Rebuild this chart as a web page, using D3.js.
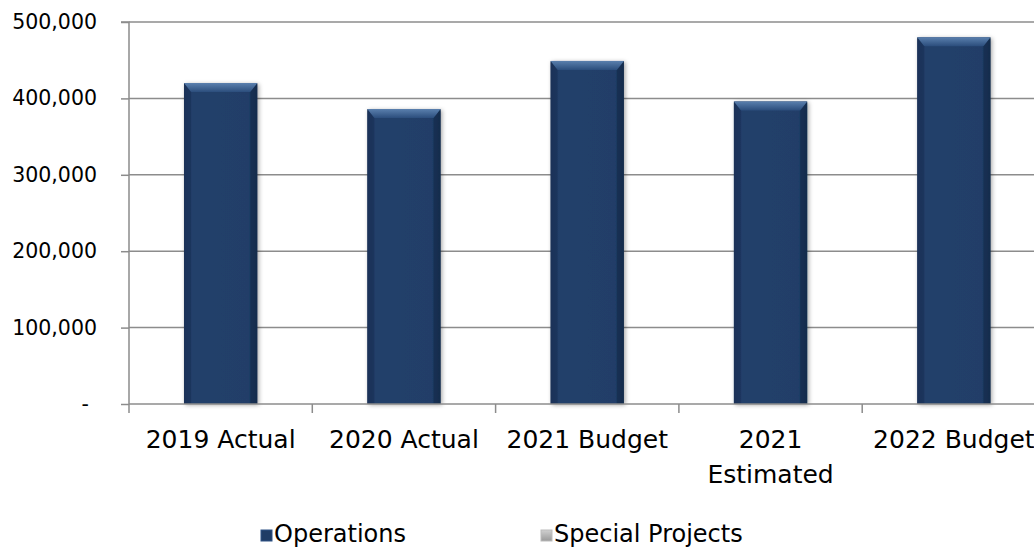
<!DOCTYPE html>
<html><head><meta charset="utf-8">
<script src="https://cdn.jsdelivr.net/npm/d3@7"></script>
<style>body{margin:0;background:#fff;} svg{display:block;}</style>
</head><body>
<svg id="chart" width="1034" height="548"></svg>
<script>
const categories = [["2019 Actual"],["2020 Actual"],["2021 Budget"],["2021","Estimated"],["2022 Budget"]];
const operations = [420000, 386000, 449000, 396000, 480000];
const specialProjects = [0, 0, 0, 0, 0];
const yTicks = [0, 100000, 200000, 300000, 400000, 500000];
const seriesNames = ["Operations", "Special Projects"];

(function(){
const svg = d3.select("#chart");
const mLeft = 129, mTop = 22, mBottom = 404, bandW = 183.3;
const mRight = mLeft + bandW * categories.length;
const x = d3.scaleBand().domain(d3.range(categories.length)).range([mLeft, mRight]).paddingInner(0.6).paddingOuter(0.3);
const xo = d3.scaleBand().domain(d3.range(categories.length)).range([mLeft, mRight]);
const y = d3.scaleLinear().domain([0, 500000]).range([mBottom, mTop]);

const defs = svg.append("defs");
const g = defs.append("linearGradient").attr("id","barg").attr("x1",0).attr("x2",1).attr("y1",0).attr("y2",0);
g.append("stop").attr("offset","0").attr("stop-color","#1a3358");
g.append("stop").attr("offset","0.12").attr("stop-color","#21406b");
g.append("stop").attr("offset","0.88").attr("stop-color","#203e68");
g.append("stop").attr("offset","1").attr("stop-color","#172e50");
const tg = defs.append("linearGradient").attr("id","topg").attr("x1",0).attr("x2",0).attr("y1",0).attr("y2",1);
tg.append("stop").attr("offset","0").attr("stop-color","#5a7fad");
tg.append("stop").attr("offset","1").attr("stop-color","#2b4d7c");
const f = defs.append("filter").attr("id","sh").attr("x","-20%").attr("y","-10%").attr("width","140%").attr("height","120%");
f.append("feDropShadow").attr("dx",1.5).attr("dy",1).attr("stdDeviation",2).attr("flood-color","#000").attr("flood-opacity",0.35);
const lg = defs.append("linearGradient").attr("id","legg").attr("x1",0).attr("x2",0).attr("y1",0).attr("y2",1);
lg.append("stop").attr("offset","0").attr("stop-color","#d0d0d0");
lg.append("stop").attr("offset","1").attr("stop-color","#9a9a9a");

svg.append("g").selectAll("line").data(yTicks.filter(d=>d>0)).join("line")
  .attr("x1", mLeft).attr("x2", 1034).attr("y1", d=>y(d)).attr("y2", d=>y(d))
  .attr("stroke","#8c8c8c").attr("stroke-width",1.5);

const ya = svg.append("g").attr("transform",`translate(${mLeft},0)`)
  .call(d3.axisLeft(y).tickValues(yTicks).tickSize(8).tickPadding(24)
    .tickFormat(d => d === 0 ? "-" : d3.format(",")(d)));
ya.select(".domain").attr("stroke","#8c8c8c").attr("stroke-width",1.5).attr("d",`M-8,${mTop}H0V${mBottom}`);
ya.selectAll(".tick line").attr("stroke","#8c8c8c").attr("stroke-width",1.5);
ya.selectAll("text").attr("font-family","DejaVu Sans").attr("font-size",20.5).attr("fill","#000");
ya.selectAll(".tick").filter(d=>d===0).select("text").attr("dx",-8);

svg.append("g").selectAll("line").data(d3.range(categories.length)).join("line")
  .attr("x1", d=>xo(d)).attr("x2", d=>xo(d)).attr("y1", mBottom).attr("y2", mBottom+9)
  .attr("stroke","#8c8c8c").attr("stroke-width",1.5);

const bars = svg.append("g").selectAll("g").data(operations).join("g");
bars.append("rect").attr("x",(d,i)=>x(i)).attr("y",d=>y(d)).attr("width",x.bandwidth()).attr("height",d=>mBottom-y(d))
  .attr("fill","url(#barg)").attr("filter","url(#sh)");
bars.append("path").attr("d",(d,i)=>{const x0=x(i), x1=x0+x.bandwidth(), t=y(d), h=9;
  return `M${x0},${t}H${x1}L${x1-7},${t+h}H${x0+7}Z`;}).attr("fill","url(#topg)");
bars.append("path").attr("d",(d,i)=>{const x0=x(i), t=y(d);
  return `M${x0},${t+1}L${x0+7},${t+9}V${mBottom}H${x0}Z`;}).attr("fill","#1a3156").attr("opacity",0.6);
bars.append("path").attr("d",(d,i)=>{const x1=x(i)+x.bandwidth(), t=y(d);
  return `M${x1},${t+1}L${x1-7},${t+9}V${mBottom}H${x1}Z`;}).attr("fill","#142a4a").attr("opacity",0.6);

svg.append("line").attr("x1",mLeft).attr("x2",1034).attr("y1",mBottom).attr("y2",mBottom).attr("stroke","#8c8c8c").attr("stroke-width",1.5);

const xl = svg.append("g").selectAll("text").data(categories).join("text")
  .attr("x",(d,i)=>xo(i)+xo.bandwidth()/2).attr("y",448)
  .attr("text-anchor","middle").attr("font-family","DejaVu Sans").attr("font-size",25).attr("fill","#000");
xl.selectAll("tspan").data(d=>d).join("tspan")
  .attr("x", function(){return this.parentNode.getAttribute("x");})
  .attr("dy",(d,i)=>i===0?0:35).text(d=>d);

const legX = [261, 541];
const leg = svg.append("g").selectAll("g").data(seriesNames).join("g").attr("transform",(d,i)=>`translate(${legX[i]},530)`);
leg.append("rect").attr("width",11).attr("height",11).attr("fill",(d,i)=>i===0?"#1f3c66":"url(#legg)")
  .attr("stroke",(d,i)=>i===0?"#2e5386":"#bbb").attr("stroke-width",1);
leg.append("text").attr("x",13).attr("y",12).attr("font-family","DejaVu Sans").attr("font-size",24).attr("fill","#000").text(d=>d);
})();
</script>
</body></html>
